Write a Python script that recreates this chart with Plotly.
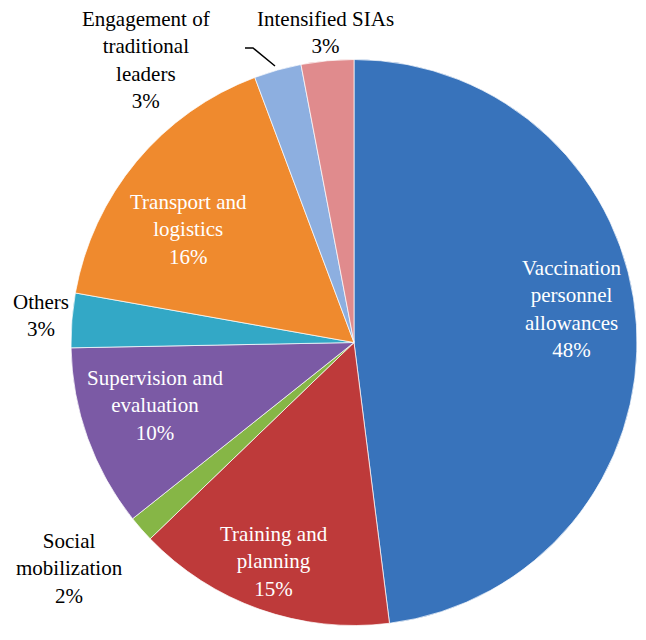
import plotly.graph_objects as go

# slice data, clockwise from 12 o'clock
categories = [
    "Vaccination personnel allowances",
    "Training and planning",
    "Social mobilization",
    "Supervision and evaluation",
    "Others",
    "Transport and logistics",
    "Engagement of traditional leaders",
    "Intensified SIAs",
]
shares = [48.0, 14.8, 1.5, 10.4, 3.1, 16.5, 2.7, 3.0]
shown_pct = ["48%", "15%", "2%", "10%", "3%", "16%", "3%", "3%"]
label_lines = [
    "Vaccination<br>personnel<br>allowances",
    "Training and<br>planning",
    "Social<br>mobilization",
    "Supervision and<br>evaluation",
    "Others",
    "Transport and<br>logistics",
    "Engagement of<br>traditional<br>leaders",
    "Intensified SIAs",
]
colors = ["#3873BB", "#BE3A3A", "#86B646", "#7B5AA5", "#33A8C6",
          "#EF8A2E", "#8DAFE0", "#E08B8D"]

# page body has an 8px margin, so the figure is a bit smaller than the window
W, H = 630, 624
cx, cy, r = 346, 334.5, 283

fig = go.Figure(go.Pie(
    labels=categories,
    values=shares,
    sort=False,
    direction="clockwise",
    rotation=0,
    textinfo="none",
    hoverinfo="label+percent",
    marker=dict(colors=colors, line=dict(color="rgba(255,255,255,0.7)", width=1)),
    domain=dict(x=[(cx - r) / W, (cx + r) / W],
                y=[(H - cy - r) / H, (H - cy + r) / H]),
    showlegend=False,
))

# label placement (pixel centres in figure) and whether label sits inside the slice
label_pos = [(564, 301, True), (266, 553, True), (61, 560, False),
             (147, 397, True), (33, 307, False), (180, 221, True),
             (138, 52, False), (317, 25, False)]

for txt, pct, (px_, py_, inside) in zip(label_lines, shown_pct, label_pos):
    fig.add_annotation(
        x=px_ / W, y=1 - py_ / H, xref="paper", yref="paper",
        text=f"{txt}<br>{pct}", showarrow=False,
        xanchor="center", yanchor="middle", align="center",
        font=dict(family="Liberation Serif", size=21,
                  color="white" if inside else "black"),
    )

# leader line for the engagement label
fig.add_shape(type="path", xref="paper", yref="paper",
              path=f"M {237/W},{1-40/H} L {245/W},{1-40/H} L {267/W},{1-58/H}",
              line=dict(color="black", width=1.5))

fig.update_layout(
    width=W, height=H,
    margin=dict(l=0, r=0, t=0, b=0),
    paper_bgcolor="white",
    plot_bgcolor="white",
)

fig.write_html("out.html")
